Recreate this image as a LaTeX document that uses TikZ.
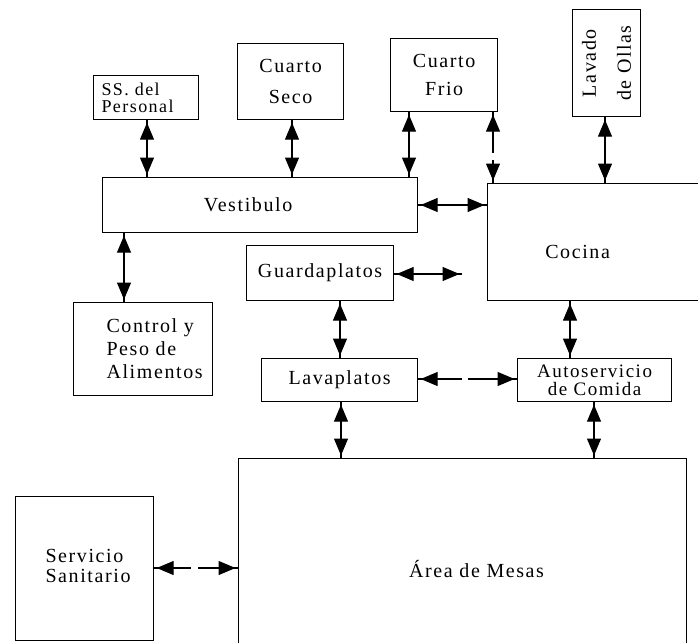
\documentclass[tikz,border=0pt]{standalone}
\usepackage{fontspec}
\setmainfont{Liberation Serif}[LetterSpace=8]
\usetikzlibrary{arrows.meta}
\newcommand\fsz[1]{\fontsize{20}{#1}\selectfont}
\begin{document}
\begin{tikzpicture}[x=1pt,y=-1pt,
  box/.style={draw, line width=1.2pt, inner sep=0pt, anchor=north west, align=center},
  tipA/.tip={Triangle[length=17pt,width=14pt]},
  conn/.style={draw, line width=1.3pt,
    postaction={draw, {tipA}-{tipA}, shorten <=2.5pt, shorten >=2.5pt}},
  connS/.style={draw, line width=1.3pt,
    postaction={draw, {tipA}-, shorten <=2.5pt}},
  connE/.style={draw, line width=1.3pt,
    postaction={draw, -{tipA}, shorten >=2.5pt}}]
\clip (0,0) rectangle (698,642);
\fill[white] (0,0) rectangle (698,642);
% boxes
\node[box, minimum width=105pt, minimum height=44pt,
  label={[anchor=west, xshift=5pt, align=left, font=\fontsize{18}{17}\selectfont]west:SS. del\\Personal}] (ss) at (93,75) {};
\node[box, minimum width=106pt, minimum height=76pt, font=\fsz{31}] (seco) at (237,43) {Cuarto\\Seco};
\node[box, minimum width=107pt, minimum height=73pt, font=\fsz{28}] (frio) at (390,38) {Cuarto\\Frio};
\node[box, minimum width=68pt, minimum height=107pt,
  label={[rotate=90, align=center, font=\fsz{35}]center:Lavado\\de Ollas}] (ollas) at (572,9) {};
\node[box, minimum width=315pt, minimum height=55pt,
  label={[xshift=-12pt, font=\fsz{20}]center:Vestibulo}] (vest) at (102,177) {};
\node[box, minimum width=218pt, minimum height=117pt,
  label={[xshift=-19pt, yshift=-10pt, font=\fsz{20}]center:Cocina}] (cocina) at (487,183) {};
\node[box, minimum width=147pt, minimum height=55pt, font=\fsz{20}] (guard) at (246,245) {Guardaplatos};
\node[box, minimum width=139pt, minimum height=93pt,
  label={[anchor=west, xshift=30pt, align=left, font=\fsz{23}]west:Control y\\Peso de\\Alimentos}] (control) at (73,302) {};
\node[box, minimum width=156pt, minimum height=43pt, font=\fsz{20}] (lava) at (261,358) {Lavaplatos};
\node[box, minimum width=154pt, minimum height=43pt, font=\fontsize{19}{18}\selectfont] (auto) at (517,358) {Autoservicio\\de Comida};
\node[box, minimum width=448pt, minimum height=220pt,
  label={[xshift=14pt, font=\fsz{20}]center:Área de Mesas}] (area) at (238,458) {};
\node[box, minimum width=138pt, minimum height=144pt,
  label={[anchor=west, xshift=27pt, yshift=3pt, align=left, font=\fsz{20}]west:Servicio\\Sanitario}] (serv) at (15,496) {};
\coordinate (gfree) at (462,274);
% connectors
\path[conn] (147,0 |- ss.south) -- (147,0 |- vest.north);
\path[conn] (292,0 |- seco.south) -- (292,0 |- vest.north);
\path[conn] (409,0 |- frio.south) -- (409,0 |- vest.north);
\path[connS] (493,0 |- frio.south) -- (493,153);
\path[connE] (493,160) -- (493,0 |- cocina.north);
\path[conn] (605,0 |- ollas.south) -- (605,0 |- cocina.north);
\path[conn] (0,205 -| vest.east) -- (0,205 -| cocina.west);
\path[conn] (guard.east |- gfree) -- (gfree);
\path[conn] (124,0 |- vest.south) -- (124,0 |- control.north);
\path[conn] (340,0 |- guard.south) -- (340,0 |- lava.north);
\path[conn] (570,0 |- cocina.south) -- (570,0 |- auto.north);
\path[connS] (0,379 -| lava.east) -- (462,379);
\path[connE] (468,379) -- (0,379 -| auto.west);
\path[conn] (341,0 |- lava.south) -- (341,0 |- area.north);
\path[conn] (594,0 |- auto.south) -- (594,0 |- area.north);
\path[connS] (0,568 -| serv.east) -- (191,568);
\path[connE] (198,568) -- (0,568 -| area.west);
\end{tikzpicture}
\end{document}
